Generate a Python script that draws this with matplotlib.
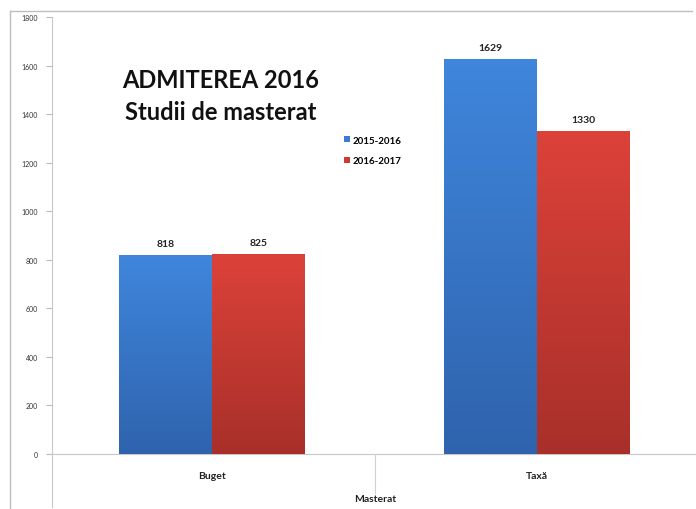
import matplotlib
matplotlib.use("Agg")
import matplotlib.pyplot as plt
import numpy as np
from matplotlib.colors import LinearSegmentedColormap
from matplotlib.lines import Line2D

categories = ["Buget", "Taxă"]
series_names = ["2015-2016", "2016-2017"]
values_2015 = [818, 1629]
values_2016 = [825, 1330]
y_ticks = [0, 200, 400, 600, 800, 1000, 1200, 1400, 1600, 1800]

W, H = 696, 510
fig = plt.figure(figsize=(W / 100, H / 100), dpi=100)
plt.rcParams['font.family'] = ['Lato', 'DejaVu Sans']

def fx(px):
    return px / W

def fy(py):
    return 1 - py / H

ax = fig.add_axes([fx(52), fy(455), fx(696) - fx(52), fy(18) - fy(455)])
x = np.arange(len(categories))
bw = 0.286

b1 = ax.bar(x - bw / 2, values_2015, bw, color="#3b7bd0", label=series_names[0], zorder=2)
b2 = ax.bar(x + bw / 2, values_2016, bw, color="#cf3b34", label=series_names[1], zorder=2)

cm_blue = LinearSegmentedColormap.from_list("b", ["#2f63ad", "#3f86dc"])
cm_red = LinearSegmentedColormap.from_list("r", ["#a8302a", "#dc4239"])
grad = np.linspace(0, 1, 256).reshape(-1, 1)
for bars, cm in ((b1, cm_blue), (b2, cm_red)):
    for p in bars:
        x0, y0 = p.get_x(), p.get_y()
        w, h = p.get_width(), p.get_height()
        im = ax.imshow(grad, cmap=cm, aspect="auto", origin="lower",
                       extent=[x0, x0 + w, y0, y0 + h], zorder=3)
        im.set_clip_path(p)

for bars, vals in ((b1, values_2015), (b2, values_2016)):
    for p, v in zip(bars, vals):
        ax.annotate(str(v), (p.get_x() + p.get_width() / 2, v), xytext=(0, 5),
                    textcoords="offset points", ha="center", va="bottom",
                    fontsize=7.5, fontweight="bold", color="#222222")

ax.set_xlim(-(212 - 52) / 325, 1 + (696 - 537) / 325)
ax.set_ylim(0, 1800)
ax.set_yticks(y_ticks)
ax.set_yticklabels([str(t) for t in y_ticks], fontsize=5, color="#333333")
ax.tick_params(axis="y", length=4, color="#bbbbbb", pad=6)
ax.set_xticks([])
for s in ("top", "right"):
    ax.spines[s].set_visible(False)
ax.spines["left"].set_color("#c8c8c8")
ax.spines["bottom"].set_color("#c8c8c8")

# category labels and separator
for xi, c in zip(x, categories):
    ax.text(xi, -0.05, c, transform=ax.get_xaxis_transform(), ha="center",
            va="center", fontsize=7.5, fontweight="bold", color="#222222")
fig.add_artist(Line2D([fx(375), fx(375)], [fy(455), fy(494)], color="#d0d0d0", lw=0.8))
fig.add_artist(Line2D([fx(52), fx(52)], [fy(455), fy(508)], color="#c8c8c8", lw=0.8))
fig.text(fx(375), fy(500), "Masterat", ha="center", va="center", fontsize=7.5,
         fontweight="bold", color="#222222")

# outer chart border
fig.add_artist(Line2D([fx(10), fx(10)], [fy(12), fy(510)], color="#bdbdbd", lw=1))
fig.add_artist(Line2D([fx(10), fx(692)], [fy(12), fy(12)], color="#bdbdbd", lw=1))

# title
fig.text(fx(221), fy(80), "ADMITEREA 2016", ha="center", va="center",
         fontsize=17, fontweight="bold", color="#111111")
fig.text(fx(221), fy(112), "Studii de masterat", ha="center", va="center",
         fontsize=17, fontweight="bold", color="#111111")

leg = ax.legend(loc="upper left", bbox_to_anchor=(fx(335), fy(128)),
                bbox_transform=fig.transFigure, frameon=False,
                handlelength=0.6, handleheight=0.6, handletextpad=0.3,
                labelspacing=1.2, prop={"weight": "bold", "size": 7})

fig.savefig("out.png", dpi=100)
